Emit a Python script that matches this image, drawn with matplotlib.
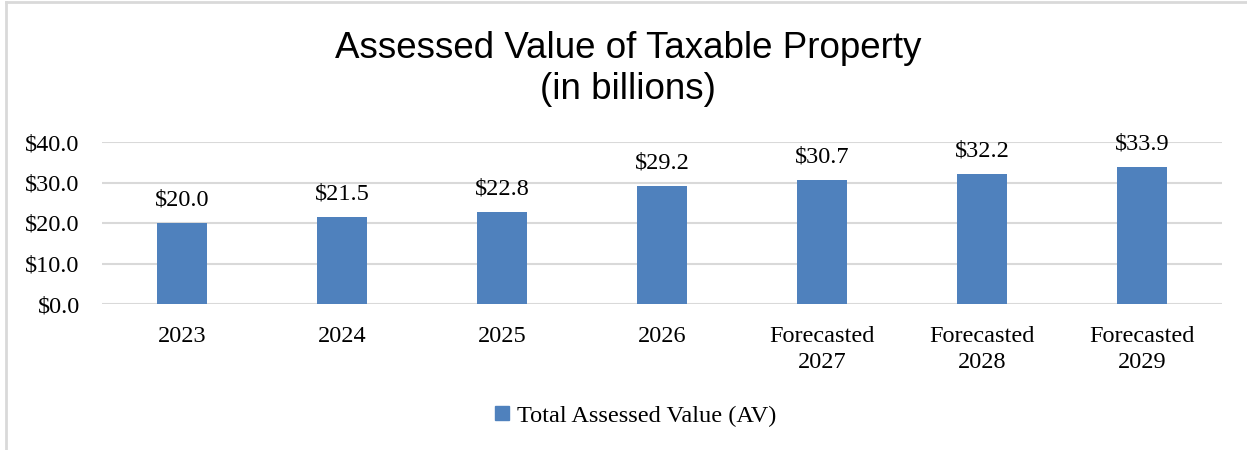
import matplotlib
matplotlib.use('Agg')
import matplotlib.pyplot as plt
from matplotlib.lines import Line2D

# data
categories = ["2023", "2024", "2025", "2026",
              "Forecasted\n2027", "Forecasted\n2028", "Forecasted\n2029"]
values = [20.0, 21.5, 22.8, 29.2, 30.7, 32.2, 33.9]
y_ticks = [0, 10, 20, 30, 40]
series_name = "Total Assessed Value (AV)"

bar_color = '#4f81bd'
grid_color = '#d9d9d9'
serif = 'Liberation Serif'
fsize = 17.5

fig = plt.figure(figsize=(12.47, 4.5), dpi=100, facecolor='white')
ax = fig.add_axes([102 / 1247, 1 - 304 / 450, 1120 / 1247, 162 / 450])

x = list(range(len(categories)))
bars = ax.bar(x, values, width=0.31, color=bar_color, zorder=3, label=series_name)

ax.set_xlim(-0.5, len(categories) - 0.5)
ax.set_ylim(0, 40)
ax.set_yticks(y_ticks)
ax.set_yticklabels([f"${v:.1f}" for v in y_ticks], family=serif, fontsize=fsize)
ax.set_xticks(x)
ax.set_xticklabels(categories, family=serif, fontsize=fsize, linespacing=1.3)
ax.tick_params(length=0, pad=16)
ax.tick_params(axis='y', pad=16)
ax.yaxis.grid(True, color=grid_color, linewidth=1.5, zorder=0)
for s in ax.spines.values():
    s.set_visible(False)

for b, v in zip(bars, values):
    ax.annotate(f"${v:.1f}", (b.get_x() + b.get_width() / 2, v),
                xytext=(0, 9), textcoords='offset points',
                ha='center', va='bottom', family=serif, fontsize=fsize)

fig.text(0.5035, 1 - 69 / 450, "Assessed Value of Taxable Property\n(in billions)",
         ha='center', va='center', family='Liberation Sans', fontsize=26.5,
         linespacing=1.25)

handle = Line2D([], [], marker='s', linestyle='none', markersize=10,
                color=bar_color)
fig.legend([handle], [series_name], loc='center', bbox_to_anchor=(633 / 1247, 1 - 416 / 450),
           frameon=False, prop={'family': serif, 'size': fsize},
           handletextpad=0.1, handlelength=1.0)

# light frame around the chart area (top and left edges visible)
fig.add_artist(Line2D([6 / 1247, 1], [1 - 2 / 450, 1 - 2 / 450],
                      transform=fig.transFigure, color=grid_color, linewidth=2))
fig.add_artist(Line2D([6 / 1247, 6 / 1247], [0, 1 - 2 / 450],
                      transform=fig.transFigure, color=grid_color, linewidth=2))

fig.savefig('out.png', dpi=100, facecolor='white')
